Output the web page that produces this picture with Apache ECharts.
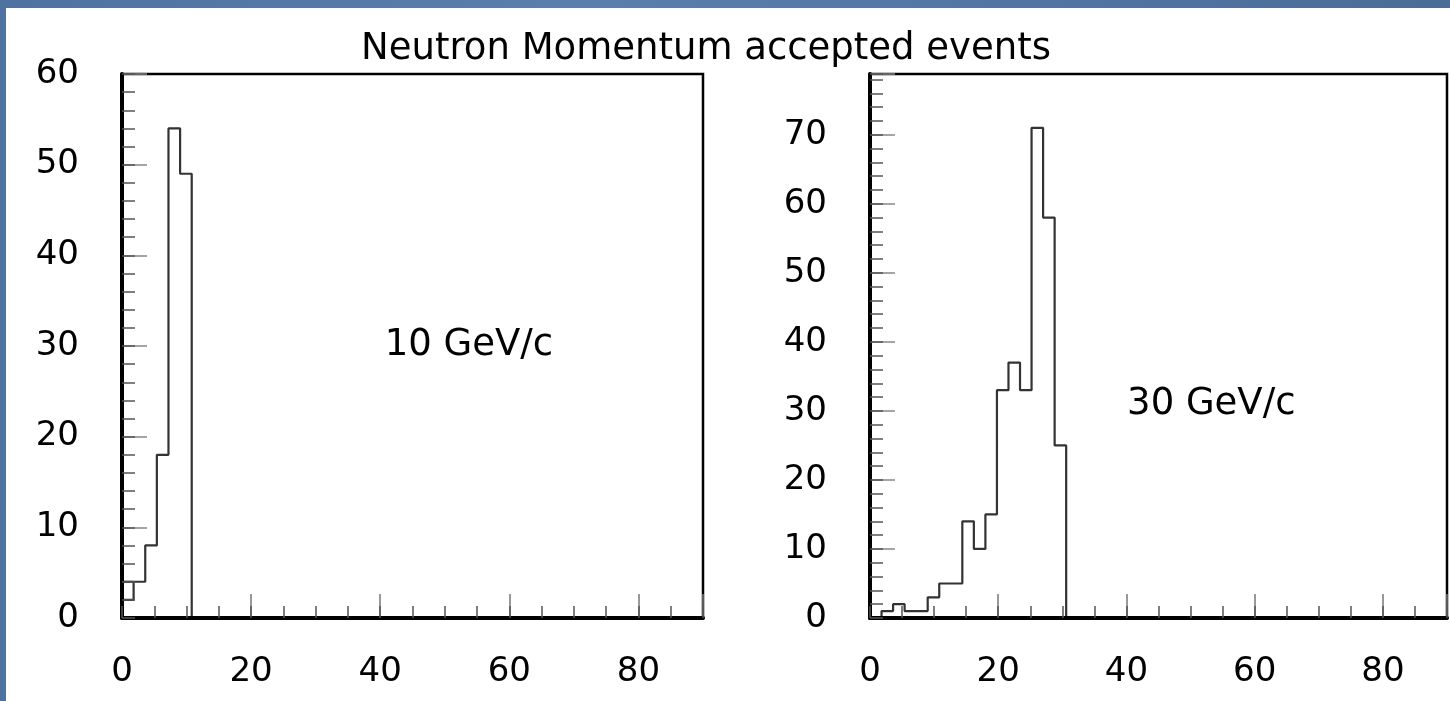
<!DOCTYPE html>
<html>
<head>
<meta charset="utf-8">
<script src="https://cdn.jsdelivr.net/npm/echarts@6/dist/echarts.min.js"></script>
<style>
  html, body { margin: 0; padding: 0; }
  body { width: 1450px; height: 701px; overflow: hidden; position: relative;
         background: linear-gradient(90deg, #4e73a0 0%, #5a7fab 40%, #4a6d98 100%); }
  #panel { position: absolute; left: 6px; top: 8px; width: 1444px; height: 693px; background: #fff; }
  #chart { position: absolute; left: 0; top: 0; width: 1450px; height: 701px; }
</style>
</head>
<body>
<div id="panel"></div>
<div id="chart"></div>
<script>
// ---- data ----
const titleText = 'Neutron Momentum accepted events';
const BIN_WIDTH = 1.8;          // 50 bins over 0..90
const X_MIN = 0, X_MAX = 90;
const leftYMax = 60;
const rightYMax = 78.8;
// counts per bin, starting at bin 0 (x = 0..1.8); bins not listed are 0
const leftCounts  = [2, 4, 8, 18, 54, 49];
const rightCounts = [0, 1, 2, 1, 1, 3, 5, 5, 14, 10, 15, 33, 37, 33, 71, 58, 25];
// extra outline drawn over the first bin of the left histogram
const leftFirstBinOverlay = [4];
const annotations = ['10 GeV/c', '30 GeV/c'];
const annotationAt = [[40.7, 30.1], [40.1, 30.9]];
const xMajorStep = 20, xMinorStep = 5;
const yMajorStep = 10, yMinorStep = 2;

// ---- build step outline from bins ----
function stepOutline(counts) {
  const pts = [[0, 0]];
  counts.forEach((v, i) => {
    pts.push([i * BIN_WIDTH, v]);
    pts.push([(i + 1) * BIN_WIDTH, v]);
  });
  pts.push([counts.length * BIN_WIDTH, 0]);
  return pts;
}
function overlaySegment(vals) {
  return vals.map((v, i) => [[i * BIN_WIDTH, v], [(i + 1) * BIN_WIDTH, v]]).flat();
}

const FONT = 'DejaVu Sans';
const grids = [
  { left: 122, top: 74, width: 581, height: 544 },
  { left: 870, top: 74, width: 577, height: 544 }
];

function xAxesFor(g) {
  return [
    { type: 'value', gridIndex: g, min: X_MIN, max: X_MAX, interval: xMinorStep, position: 'bottom',
      axisLine: { show: true, onZero: false, lineStyle: { color: '#000', width: 4 } },
      axisTick: { show: true, inside: true, length: 12, lineStyle: { color: '#555', width: 1.5 } },
      axisLabel: { show: false }, splitLine: { show: false }, z: 10 },
    { type: 'value', gridIndex: g, min: X_MIN, max: X_MAX, interval: xMajorStep, position: 'bottom',
      axisLine: { show: false, onZero: false },
      axisTick: { show: true, inside: true, length: 24, lineStyle: { color: '#777', width: 1.5 } },
      axisLabel: { show: true, margin: 37, fontSize: 34, fontFamily: FONT, color: '#000',
                   formatter: v => (v % xMajorStep === 0 ? String(v) : '') },
      splitLine: { show: false } }
  ];
}
function yAxesFor(g, ymax) {
  return [
    { type: 'value', gridIndex: g, min: 0, max: ymax, interval: yMinorStep, position: 'left',
      axisLine: { show: true, onZero: false, lineStyle: { color: '#000', width: 4 } },
      axisTick: { show: true, inside: true, length: 13, lineStyle: { color: '#555', width: 1.5 } },
      axisLabel: { show: false }, splitLine: { show: false }, z: 10 },
    { type: 'value', gridIndex: g, min: 0, max: ymax, interval: yMajorStep, position: 'left',
      axisLine: { show: false, onZero: false },
      axisTick: { show: true, inside: true, length: 25, lineStyle: { color: '#888', width: 1.5 } },
      axisLabel: { show: true, margin: 43, fontSize: 34, fontFamily: FONT, color: '#000',
                   formatter: v => (v % yMajorStep === 0 ? String(v) : '') },
      splitLine: { show: false } }
  ];
}

const lineStyle = { color: '#333', width: 2.2 };
const chart = echarts.init(document.getElementById('chart'), null, { renderer: 'canvas' });
chart.setOption({
  animation: false,
  backgroundColor: 'transparent',
  grid: grids.map(g => Object.assign({ show: true, borderColor: '#000', borderWidth: 2.5, backgroundColor: 'transparent' }, g)),
  xAxis: [...xAxesFor(0), ...xAxesFor(1)],
  yAxis: [...yAxesFor(0, leftYMax), ...yAxesFor(1, rightYMax)],
  series: [
    { type: 'line', xAxisIndex: 0, yAxisIndex: 0, data: stepOutline(leftCounts),
      showSymbol: false, symbol: 'none', lineStyle: lineStyle, z: 5 },
    { type: 'line', xAxisIndex: 0, yAxisIndex: 0, data: overlaySegment(leftFirstBinOverlay),
      showSymbol: false, symbol: 'none', lineStyle: lineStyle, z: 5 },
    { type: 'line', xAxisIndex: 2, yAxisIndex: 2, data: stepOutline(rightCounts),
      showSymbol: false, symbol: 'none', lineStyle: lineStyle, z: 5 }
  ]
});

const p0 = chart.convertToPixel({ xAxisIndex: 0, yAxisIndex: 0 }, annotationAt[0]);
const p1 = chart.convertToPixel({ xAxisIndex: 2, yAxisIndex: 2 }, annotationAt[1]);
chart.setOption({
  graphic: [
    { type: 'text', x: 706, y: 49, style: { text: titleText, font: '37px "DejaVu Sans"', fill: '#000',
      textAlign: 'center', textVerticalAlign: 'middle' } },
    { type: 'text', x: p0[0], y: p0[1], style: { text: annotations[0], font: '37px "DejaVu Sans"', fill: '#000',
      textAlign: 'left', textVerticalAlign: 'middle' } },
    { type: 'text', x: p1[0], y: p1[1], style: { text: annotations[1], font: '37px "DejaVu Sans"', fill: '#000',
      textAlign: 'left', textVerticalAlign: 'middle' } }
  ]
});
</script>
</body>
</html>
